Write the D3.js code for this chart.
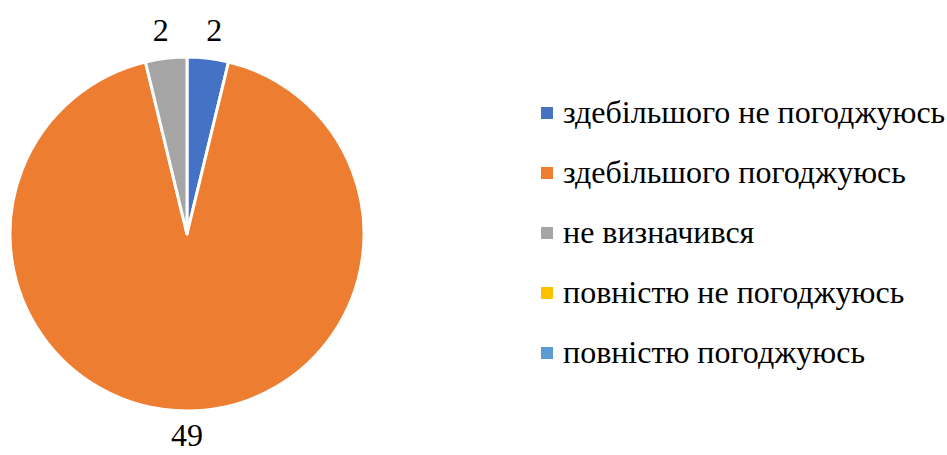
<!DOCTYPE html>
<html>
<head>
<meta charset="utf-8">
<script src="https://cdn.jsdelivr.net/npm/d3@7"></script>
<style>
  body { margin: 0; background: #fff; }
  svg { display: block; }
</style>
</head>
<body>
<div id="chart-area"></div>
<script>
// data
var categories = ["здебільшого не погоджуюсь", "здебільшого погоджуюсь", "не визначився", "повністю не погоджуюсь", "повністю погоджуюсь"];
var values = [2, 49, 2, 0, 0];
var colors = ["#4472C4", "#ED7D31", "#A5A5A5", "#FFC000", "#5B9BD5"];

var width = 947, height = 455;
var cx = 187, cy = 234, radius = 177;
var font = "'Liberation Serif', 'Times New Roman', serif";

var svg = d3.select("#chart-area")
    .append("svg")
    .attr("width", width)
    .attr("height", height);

var data = categories.map(function(c, i) { return { name: c, value: values[i], color: colors[i] }; });

var pie = d3.pie()
    .sort(null)
    .value(function(d) { return d.value; });

var arc = d3.arc()
    .innerRadius(0)
    .outerRadius(radius);

var labelArc = d3.arc()
    .innerRadius(radius + 28)
    .outerRadius(radius + 28);

var g = svg.append("g")
    .attr("transform", "translate(" + cx + "," + cy + ")");

var arcs = pie(data);

g.selectAll("path")
    .data(arcs.filter(function(d) { return d.data.value > 0; }))
    .enter()
    .append("path")
    .attr("d", arc)
    .attr("fill", function(d) { return d.data.color; })
    .attr("stroke", "#fff")
    .attr("stroke-width", 3)
    .attr("stroke-linejoin", "round");

// Labels
g.selectAll("text.val")
    .data(arcs.filter(function(d) { return d.data.value > 0; }))
    .enter()
    .append("text")
    .attr("class", "val")
    .attr("transform", function(d) {
        var c = labelArc.centroid(d);
        // push the small top labels a little sideways, as Excel does
        var dx = Math.abs(c[0]) < 60 && c[1] < 0 ? (c[0] > 0 ? 3 : -2) : 0;
        // keep the bottom label inside the picture
        var dy = c[1] > 0 ? -4 : 0;
        return "translate(" + (c[0] + dx) + "," + (c[1] + dy) + ")";
    })
    .attr("text-anchor", "middle")
    .attr("dy", "0.33em")
    .style("font-family", font)
    .attr("font-size", "32px")
    .attr("fill", "#000")
    .text(function(d) { return d.data.value; });

// Legend
var legend = svg.append("g")
    .attr("transform", "translate(541, 113)");

var row = legend.selectAll("g.item")
    .data(data)
    .enter()
    .append("g")
    .attr("class", "item")
    .attr("transform", function(d, i) { return "translate(0," + (i * 60) + ")"; });

row.append("rect")
    .attr("x", 0)
    .attr("y", -6)
    .attr("width", 12)
    .attr("height", 12)
    .attr("fill", function(d) { return d.color; });

row.append("text")
    .attr("x", 22)
    .attr("y", 0)
    .attr("dy", "0.32em")
    .style("font-family", font)
    .attr("font-size", "32px")
    .attr("fill", "#000")
    .text(function(d) { return d.name; });
</script>
</body>
</html>
